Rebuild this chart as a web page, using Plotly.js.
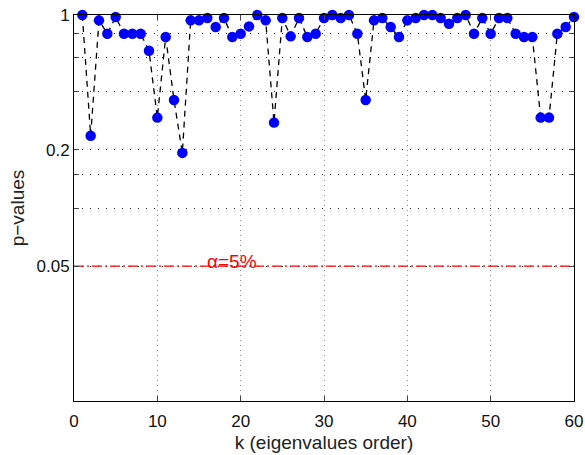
<!DOCTYPE html>
<html>
<head>
<meta charset="utf-8">
<script src="https://cdn.plot.ly/plotly-3.0.1.min.js"></script>
<style>html,body{margin:0;padding:0;background:#fff;}#chart{width:585px;height:455px;}</style>
</head>
<body>
<div id="chart"></div>
<script>
const k = Array.from({length: 60}, (_, i) => i + 1);
const pValues = [
  1.0, 0.237, 0.938, 0.80, 0.976, 0.80, 0.80, 0.80, 0.653, 0.294,
  0.769, 0.363, 0.193, 0.938, 0.938, 0.965, 0.867, 0.965, 0.769, 0.80,
  0.873, 1.0, 0.938, 0.277, 0.965, 0.775, 0.965, 0.769, 0.80, 0.965,
  1.0, 0.965, 1.0, 0.80, 0.363, 0.938, 0.965, 0.867, 0.769, 0.938,
  0.965, 1.0, 1.0, 0.965, 0.901, 0.965, 1.0, 0.80, 0.965, 0.80,
  0.965, 0.965, 0.80, 0.769, 0.769, 0.294, 0.294, 0.80, 0.867, 0.976
];
const alphaLevel = 0.05;
const alphaX = [0, 60];
const alphaLabel = 'α=5%';
const alphaLabelK = 19;
const yTickVals = [0.05, 0.1, 0.15, 0.2, 0.4, 0.6, 0.8, 1];
const yTickText = ['0.05', '', '', '0.2', '', '', '', '1'];
const xTickVals = [0, 10, 20, 30, 40, 50, 60];

const fam = 'Liberation Sans, Arial, sans-serif';
const tickFont = {family: fam, size: 17, color: '#111'};

const traces = [
  {
    x: alphaX, y: [alphaLevel, alphaLevel], mode: 'lines',
    line: {color: '#ff0000', width: 1.3, dash: '10px,3px,2px,3px'},
    hoverinfo: 'skip', showlegend: false
  },
  {
    x: k, y: pValues, mode: 'lines+markers',
    line: {color: '#000', width: 1.3, dash: '6px,5px'},
    marker: {color: '#0000ff', size: 10.5},
    cliponaxis: false, showlegend: false
  }
];

const layout = {
  width: 585, height: 455,
  margin: {l: 74, r: 11, t: 15, b: 54},
  paper_bgcolor: '#fff', plot_bgcolor: '#fff',
  font: tickFont,
  showlegend: false,
  xaxis: {
    range: [0, 60], tickvals: xTickVals, ticks: 'inside', ticklen: 5,
    ticklabelstandoff: 5,
    showline: true, linecolor: '#000', linewidth: 1, mirror: 'ticks',
    showgrid: true, gridcolor: '#888', griddash: '1px,4px', gridwidth: 1,
    zeroline: false, tickfont: tickFont,
    title: {text: 'k (eigenvalues order)', font: {family: fam, size: 19, color: '#222'}, standoff: 5}
  },
  yaxis: {
    type: 'log', range: [-2, 0], tickvals: yTickVals, ticktext: yTickText,
    ticks: 'inside', ticklen: 5,
    showline: true, linecolor: '#000', linewidth: 1, mirror: 'ticks',
    showgrid: true, gridcolor: '#222', griddash: '1px,7px', gridwidth: 1,
    zeroline: false, tickfont: tickFont,
    title: {text: 'p−values', font: {family: fam, size: 19, color: '#222'}, standoff: 6}
  },
  annotations: [{
    x: alphaLabelK, y: Math.log10(alphaLevel), xref: 'x', yref: 'y',
    text: alphaLabel, showarrow: false, yshift: 5,
    font: {family: fam, size: 19, color: '#ff0000'}
  }]
};

Plotly.newPlot('chart', traces, layout, {displayModeBar: false, staticPlot: true});
</script>
</body>
</html>
